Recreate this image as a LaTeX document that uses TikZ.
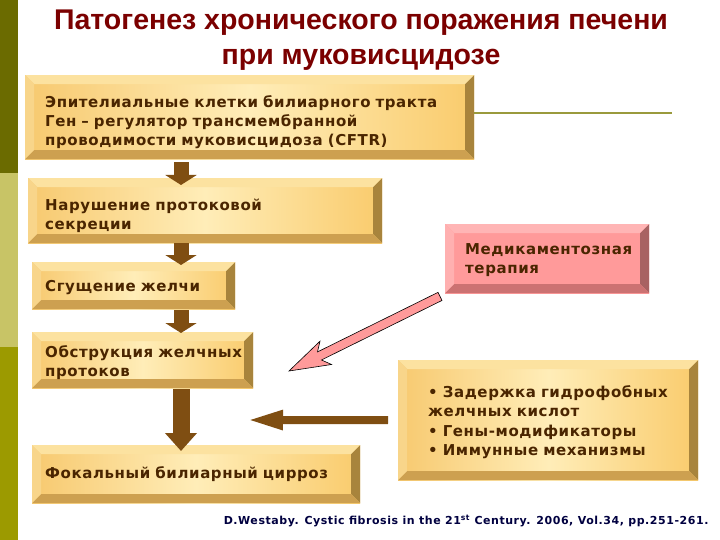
\documentclass[tikz,border=0pt]{standalone}
\usepackage{fontspec}
\setmainfont{DejaVu Sans}
\newfontfamily\titlefont{Liberation Sans}
\newfontfamily\boxfont[LetterSpace=4]{DejaVu Sans}
\newfontfamily\citefont[LetterSpace=5]{DejaVu Sans}
\usetikzlibrary{calc,arrows.meta}
\definecolor{barA}{HTML}{6B6B00}
\definecolor{barB}{HTML}{C8C466}
\definecolor{barC}{HTML}{9C9A00}
\definecolor{titlered}{HTML}{7B0000}
\definecolor{boxtext}{HTML}{4A2500}
\definecolor{yL}{HTML}{F7C96F}
\definecolor{yM}{HTML}{FFEDB8}
\definecolor{yR}{HTML}{F9CB6C}
\definecolor{yTop}{HTML}{FCE2A0}
\definecolor{yLeft}{HTML}{F8D58A}
\definecolor{yRight}{HTML}{A8843C}
\definecolor{yBot}{HTML}{CDA050}
\definecolor{pFace}{HTML}{FF9A9A}
\definecolor{pTop}{HTML}{FFB5B5}
\definecolor{pLeft}{HTML}{FFB0B0}
\definecolor{pRight}{HTML}{A86262}
\definecolor{pBot}{HTML}{CC7272}
\definecolor{arrbrown}{HTML}{7F4E12}
\definecolor{linkolive}{HTML}{9A9A3C}
\definecolor{citeblue}{HTML}{000040}
\tikzset{
  bevelbox/.style n args={7}{rectangle, anchor=north west, inner ysep=0pt, align=left,
    font=\boxfont\bfseries\fontsize{15}{19}\selectfont, text=boxtext,
    path picture={
      \fill[left color=#1, right color=#3, middle color=#2]
        (path picture bounding box.south west) rectangle (path picture bounding box.north east);
      \fill[#4] (path picture bounding box.north west) -- (path picture bounding box.north east)
        -- ([shift={(-9pt,-9pt)}]path picture bounding box.north east)
        -- ([shift={(9pt,-9pt)}]path picture bounding box.north west) -- cycle;
      \fill[#5] (path picture bounding box.north west) -- ([shift={(9pt,-9pt)}]path picture bounding box.north west)
        -- ([shift={(9pt,9pt)}]path picture bounding box.south west)
        -- (path picture bounding box.south west) -- cycle;
      \fill[#6] (path picture bounding box.north east) -- (path picture bounding box.south east)
        -- ([shift={(-9pt,9pt)}]path picture bounding box.south east)
        -- ([shift={(-9pt,-9pt)}]path picture bounding box.north east) -- cycle;
      \fill[#7] (path picture bounding box.south west) -- (path picture bounding box.south east)
        -- ([shift={(-9pt,9pt)}]path picture bounding box.south east)
        -- ([shift={(9pt,9pt)}]path picture bounding box.south west) -- cycle;
    }},
  ybox/.style={bevelbox={yL}{yM}{yR}{yTop}{yLeft}{yRight}{yBot}},
  pbox/.style={bevelbox={pFace}{pFace}{pFace}{pTop}{pLeft}{pRight}{pBot}},
  dar/.style={draw=arrbrown, line width=15pt, -{Triangle[width=31pt,length=10pt]}},
  bigdar/.style={draw=arrbrown, line width=17pt, -{Triangle[width=31pt,length=18pt]}},
  har/.style={draw=arrbrown, line width=8pt, -{Triangle[width=18pt,length=36pt]}},
}
\begin{document}
\begin{tikzpicture}[x=1pt,y=-1pt]
\useasboundingbox (0,0) rectangle (720,540);
\fill[white] (0,0) rectangle (720,540);
% left bar
\fill[barA] (0,0) rectangle (18,173);
\fill[barB] (0,173) rectangle (18,347);
\fill[barC] (0,347) rectangle (18,540);
% title
\node[font=\titlefont\bfseries\fontsize{28.5}{35}\selectfont, text=titlered, align=center] (title) at (361,40)
  {Патогенез хронического поражения печени\\при муковисцидозе};
% boxes
\node[ybox, minimum height=84pt, inner xsep=20pt, text width=409pt] (b1) at (25,75)
  {\rule{0pt}{21.5pt}Эпителиальные клетки билиарного тракта\\Ген – регулятор трансмембранной\\проводимости муковисцидоза (CFTR)};
\node[ybox, minimum height=65pt, inner xsep=17pt, text width=320pt] (b2) at (28,178)
  {\rule{0pt}{21.5pt}Нарушение протоковой\\секреции};
\node[ybox, minimum height=47pt, inner xsep=13pt, text width=177pt] (b3) at (32,262)
  {\rule{0pt}{15.5pt}Сгущение желчи};
\node[ybox, minimum height=56pt, inner xsep=13pt, text width=195pt] (b4) at (32,332)
  {\rule{0pt}{17.5pt}\mbox{Обструкция желчных}\\протоков};
\node[ybox, minimum height=58pt, inner xsep=13pt, text width=302pt] (b5) at (32,445)
  {Фокальный билиарный цирроз};
\node[pbox, minimum height=69pt, inner xsep=20pt, text width=164pt] (pb) at (445,224)
  {\rule{0pt}{13.5pt}\mbox{Медикаментозная}\\терапия};
\node[ybox, minimum height=120pt, inner xsep=30pt, text width=240pt, font=\boxfont\bfseries\fontsize{15}{19.5}\selectfont] (rb) at (398,360)
  {\rule{0pt}{15.5pt}\mbox{• Задержка гидрофобных}\\желчных кислот\\• Гены-модификаторы\\• Иммунные механизмы};
% olive line
\coordinate (le) at (672,113);
\draw[linkolive, line width=2pt] (b1.east |- le) -- (le);
% down arrows
\coordinate (ax) at (181,0);
\draw[dar] ($(b1.south -| ax)+(0,3)$) -- ($(b2.north -| ax)+(0,7)$);
\draw[dar] ($(b2.south -| ax)+(0,0)$) -- ($(b3.north -| ax)+(0,3)$);
\draw[dar] ($(b3.south -| ax)+(0,1)$) -- ($(b4.north -| ax)+(0,1)$);
\draw[bigdar] ($(b4.south -| ax)+(0,1)$) -- ($(b5.north -| ax)+(0,6)$);
% horizontal arrow
\coordinate (ht) at (247,420);
\draw[har] ($(rb.west)+(-10,0)$) -- (ht);
% pink arrow
\coordinate (ps) at ($(pb.south west)+(-5,3)$);
\coordinate (pe) at (289,371);
\coordinate (pbase) at ($(pe)!41pt!(ps)$);
\coordinate (pneck) at ($(pe)!34pt!(ps)$);
\filldraw[fill=pFace, draw=black, line width=0.6pt]
  ($(ps)!4.5pt!90:(pe)$) -- ($(pneck)!4.5pt!90:(pe)$) -- ($(pbase)!13pt!90:(pe)$) -- (pe)
  -- ($(pbase)!13pt!-90:(pe)$) -- ($(pneck)!4.5pt!-90:(pe)$) -- ($(ps)!4.5pt!-90:(pe)$) -- cycle;
% citation
\node[anchor=east, font=\citefont\bfseries\fontsize{11}{12}\selectfont, text=citeblue] (cite) at (712,521)
  {D.Westaby. Cystic fibrosis in the 21\textsuperscript{st} Century. 2006, Vol.34, pp.251-261.};
\end{tikzpicture}
\end{document}
